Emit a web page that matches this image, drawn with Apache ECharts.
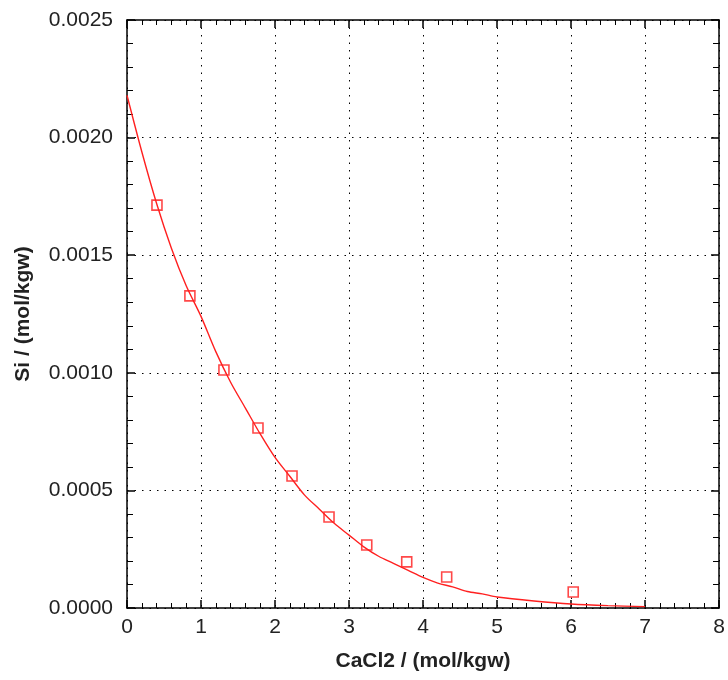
<!DOCTYPE html>
<html>
<head>
<meta charset="utf-8">
<script src="https://cdn.jsdelivr.net/npm/echarts@6/dist/echarts.min.js"></script>
<style>html,body{margin:0;padding:0;background:#fff;}#c{width:728px;height:680px;}</style>
</head>
<body>
<div id="c"></div>
<script>
// Measured points (CaCl2 molality, Si molality)
const measX = [0.405, 0.85, 1.31, 1.77, 2.23, 2.73, 3.24, 3.78, 4.32, 6.03];
const measY = [0.001713, 0.001327, 0.001012, 0.000765, 0.000561, 0.000387, 0.000268, 0.000196, 0.000132, 0.000068];
// Model curve
const curveX = [0, 0.2, 0.4, 0.6, 0.8, 1.0, 1.2, 1.4, 1.6, 1.8, 2.0, 2.2, 2.4, 2.6, 2.8, 3.0, 3.2, 3.4, 3.6, 3.8, 4.0, 4.2, 4.4, 4.6, 4.8, 5.0, 5.5, 6.0, 6.5, 7.0];
const curveY = [0.00218, 0.00194, 0.00172, 0.00153, 0.00137, 0.00124, 0.00109, 0.00096, 0.00085, 0.00074, 0.00064, 0.00056, 0.00048, 0.00042, 0.00036, 0.00031, 0.00026, 0.00022, 0.00019, 0.00016, 0.00013, 0.000106, 0.00009, 0.00007, 0.00006, 0.000047, 0.00003, 0.000017, 0.00001, 0.000006];
const xTicks = [0, 1, 2, 3, 4, 5, 6, 7, 8];
const yTicks = ['0.0000', '0.0005', '0.0010', '0.0015', '0.0020', '0.0025'];

const chart = echarts.init(document.getElementById('c'), null, {renderer: 'canvas'});
const font = 'Liberation Sans, Arial, sans-serif';
const axisLine = {show: true, onZero: false, lineStyle: {color: '#000', width: 1.5}};
const grid = {left: 127, right: 9, top: 20, bottom: 72};
const dotted = {show: true, lineStyle: {color: '#000', width: 1, type: [1.5, 6]}};

chart.setOption({
  animation: false,
  grid: grid,
  xAxis: [{
    type: 'value', min: 0, max: 8, interval: 1, position: 'bottom',
    name: 'CaCl2 / (mol/kgw)', nameLocation: 'middle', nameGap: 43,
    nameTextStyle: {fontFamily: font, fontSize: 21, fontWeight: 'bold', color: '#222'},
    axisLine: axisLine,
    axisTick: {show: true, inside: true, length: 8, lineStyle: {color: '#000', width: 1.5}},
    minorTick: {show: true, splitNumber: 5, length: 5, lineStyle: {color: '#000', width: 1}},
    axisLabel: {fontFamily: font, fontSize: 21, color: '#222', margin: 9,
      formatter: v => String(xTicks[Math.round(v)])},
    splitLine: dotted
  }, {
    type: 'value', min: 0, max: 8, interval: 1, position: 'top',
    axisLine: axisLine,
    axisTick: {show: true, inside: true, length: 8, lineStyle: {color: '#000', width: 1.5}},
    minorTick: {show: true, splitNumber: 5, length: 5, lineStyle: {color: '#000', width: 1}},
    axisLabel: {show: false}, splitLine: {show: false}
  }],
  yAxis: [{
    type: 'value', min: 0, max: 0.0025, interval: 0.0005, position: 'left',
    name: 'Si / (mol/kgw)', nameLocation: 'middle', nameGap: 93,
    nameTextStyle: {fontFamily: font, fontSize: 21, fontWeight: 'bold', color: '#222'},
    axisLine: axisLine,
    axisTick: {show: true, inside: true, length: 8, lineStyle: {color: '#000', width: 1.5}},
    minorTick: {show: true, splitNumber: 5, length: 6, lineStyle: {color: '#000', width: 1}},
    axisLabel: {fontFamily: font, fontSize: 21, color: '#222', margin: 14,
      formatter: v => yTicks[Math.round(v / 0.0005)]},
    splitLine: dotted
  }, {
    type: 'value', min: 0, max: 0.0025, interval: 0.0005, position: 'right',
    axisLine: axisLine,
    axisTick: {show: true, inside: true, length: 8, lineStyle: {color: '#000', width: 1.5}},
    minorTick: {show: true, splitNumber: 5, length: 6, lineStyle: {color: '#000', width: 1}},
    axisLabel: {show: false}, splitLine: {show: false}
  }],
  series: [{
    type: 'line', xAxisIndex: 0, yAxisIndex: 0,
    data: curveX.map((x, i) => [x, curveY[i]]),
    showSymbol: false, smooth: 0.3,
    lineStyle: {color: '#ff2020', width: 1.4}
  }, {
    type: 'scatter', xAxisIndex: 0, yAxisIndex: 0,
    data: measX.map((x, i) => [x, measY[i]]),
    symbol: 'rect', symbolSize: 10,
    itemStyle: {color: '#fff', borderColor: '#ff1a1a', borderWidth: 1.6}
  }]
});
</script>
</body>
</html>
